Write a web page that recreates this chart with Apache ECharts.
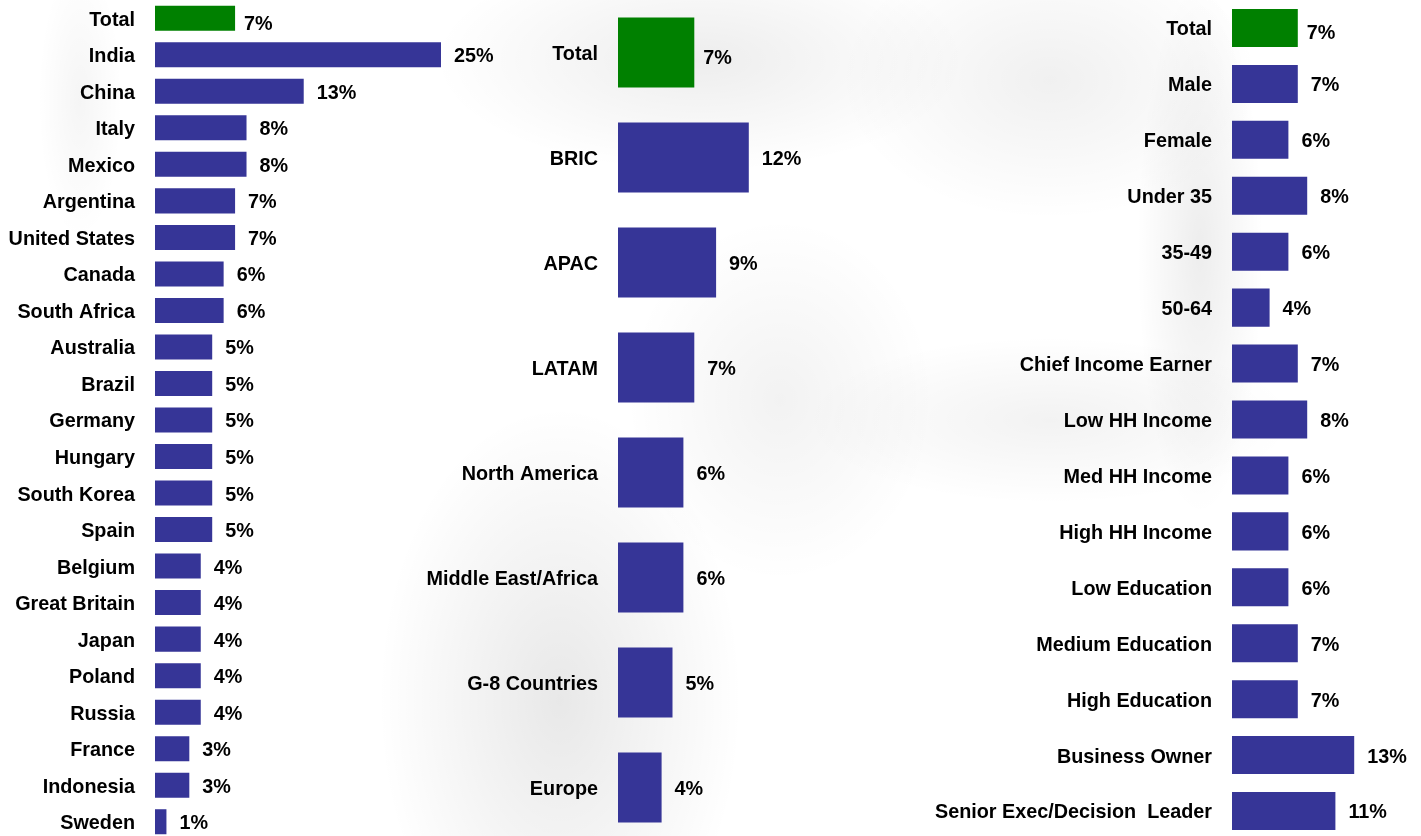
<!DOCTYPE html>
<html>
<head>
<meta charset="utf-8">
<script src="https://cdn.jsdelivr.net/npm/echarts@6/dist/echarts.min.js"></script>
<style>
html,body{margin:0;padding:0;width:1421px;height:836px;overflow:hidden;}
body{
  background:
    radial-gradient(ellipse 260px 420px at 560px 700px, rgba(0,0,0,0.09), rgba(0,0,0,0) 70%),
    radial-gradient(ellipse 380px 160px at 700px 60px, rgba(0,0,0,0.07), rgba(0,0,0,0) 70%),
    radial-gradient(ellipse 300px 200px at 1050px 80px, rgba(0,0,0,0.06), rgba(0,0,0,0) 70%),
    radial-gradient(ellipse 90px 380px at 1200px 250px, rgba(0,0,0,0.07), rgba(0,0,0,0) 70%),
    radial-gradient(ellipse 350px 120px at 1050px 420px, rgba(0,0,0,0.05), rgba(0,0,0,0) 70%),
    radial-gradient(ellipse 220px 260px at 780px 400px, rgba(0,0,0,0.05), rgba(0,0,0,0) 70%),
    radial-gradient(ellipse 60px 200px at 80px 100px, rgba(0,0,0,0.04), rgba(0,0,0,0) 70%),
    #ffffff;
}
#chart{width:1421px;height:850px;}
</style>
</head>
<body>
<div id="chart"></div>
<script>
// ---- Data ----
const countryNames = ["Total","India","China","Italy","Mexico","Argentina","United States","Canada","South Africa","Australia","Brazil","Germany","Hungary","South Korea","Spain","Belgium","Great Britain","Japan","Poland","Russia","France","Indonesia","Sweden"];
const countryValues = [7,25,13,8,8,7,7,6,6,5,5,5,5,5,5,4,4,4,4,4,3,3,1];

const regionNames = ["Total","BRIC","APAC","LATAM","North America","Middle East/Africa","G-8 Countries","Europe"];
const regionValues = [7,12,9,7,6,6,5,4];

const segmentNames = ["Total","Male","Female","Under 35","35-49","50-64","Chief Income Earner","Low HH Income","Med HH Income","High HH Income","Low Education","Medium Education","High Education","Business Owner","Senior Exec/Decision  Leader"];
const segmentValues = [7,7,6,8,6,4,7,8,6,6,6,7,7,13,11];

// ---- Styles ----
const BLUE = '#363597';
const GREEN = '#008000';
const FONT = '"Liberation Sans", Arial, sans-serif';
const FS = 19.8;

function items(names, values) {
  return values.map((v, i) => {
    const isTotal = names[i] === 'Total';
    return {
      value: v,
      itemStyle: { color: isTotal ? GREEN : BLUE },
      label: isTotal ? { distance: 9, offset: [0, 6] } : { distance: 13, offset: [0, 2] }
    };
  });
}

function yAxis(idx, names) {
  return {
    type: 'category', gridIndex: idx, data: names, inverse: true,
    axisLine: { show: false }, axisTick: { show: false }, splitLine: { show: false },
    axisLabel: {
      margin: 20, interval: 0,
      formatter: v => '{t|' + v + '}',
      rich: { t: { color: '#000', fontFamily: FONT, fontWeight: 'bold', fontSize: FS, padding: [4, 0, 0, 0] } }
    }
  };
}
function xAxis(idx, max) {
  return { type: 'value', gridIndex: idx, min: 0, max: max, show: false, splitLine: { show: false } };
}
function series(idx, names, values, gap) {
  return {
    type: 'bar', xAxisIndex: idx, yAxisIndex: idx, data: items(names, values),
    barCategoryGap: gap, animation: false, silent: true,
    label: { show: true, position: 'right', formatter: '{c}%', color: '#000', fontFamily: FONT, fontWeight: 'bold', fontSize: FS }
  };
}

const chart = echarts.init(document.getElementById('chart'), null, { renderer: 'canvas' });
chart.setOption({
  backgroundColor: 'transparent',
  animation: false,
  grid: [
    { left: 155, top: 0, width: 343.2, height: 840 },
    { left: 618, top: 0, width: 218, height: 840 },
    { left: 1232, top: 0, width: 188, height: 839 }
  ],
  xAxis: [xAxis(0, 30), xAxis(1, 20), xAxis(2, 20)],
  yAxis: [yAxis(0, countryNames), yAxis(1, regionNames), yAxis(2, segmentNames)],
  series: [
    series(0, countryNames, countryValues, '31.5%'),
    series(1, regionNames, regionValues, '33.3%'),
    series(2, segmentNames, segmentValues, '32%')
  ]
});
</script>
</body>
</html>
